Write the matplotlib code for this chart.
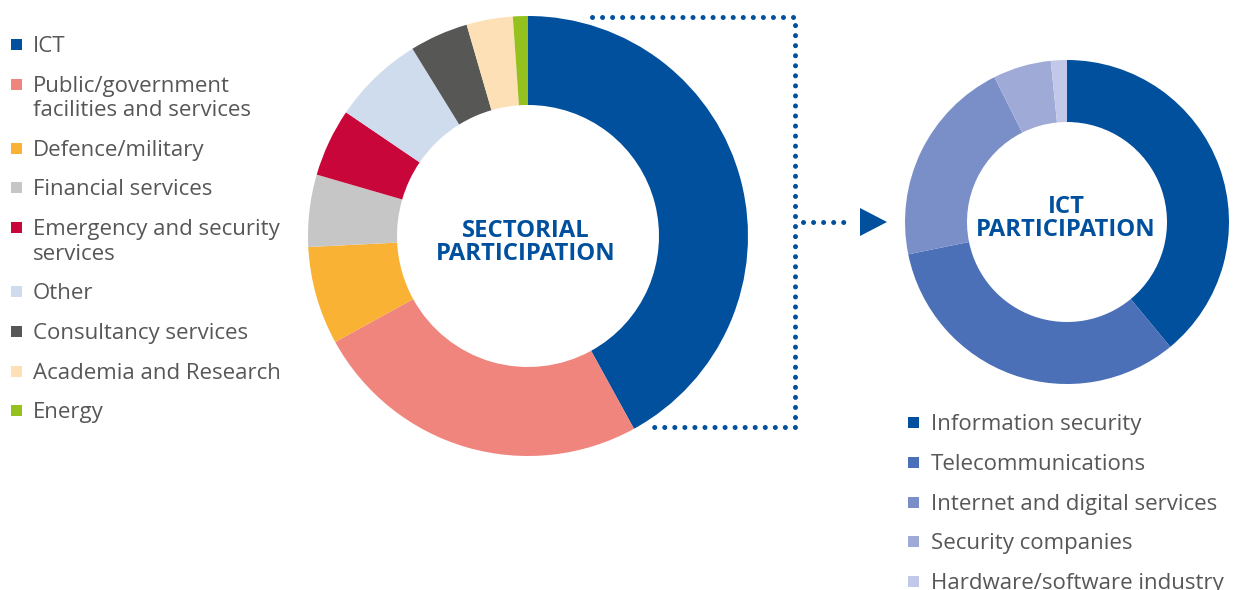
import matplotlib.pyplot as plt
from matplotlib.patches import Polygon

plt.rcParams['font.family'] = ['Open Sans', 'DejaVu Sans']

# sectorial participation (share, %)
sectors = ['ICT', 'Public/government\nfacilities and services', 'Defence/military',
           'Financial services', 'Emergency and security\nservices', 'Other',
           'Consultancy services', 'Academia and Research', 'Energy']
sector_share = [42.0, 25.0, 7.2, 5.3, 5.0, 6.7, 4.3, 3.4, 1.1]
sector_colors = ['#00509e', '#f0857d', '#f9b233', '#c6c6c6', '#c8063a',
                 '#cfdcee', '#575756', '#fde0b6', '#95c11f']

# ICT participation (share, %)
ict = ['Information security', 'Telecommunications', 'Internet and digital services',
       'Security companies', 'Hardware/software industry']
ict_share = [39.0, 32.8, 20.8, 5.8, 1.6]
ict_colors = ['#00509e', '#4b70b7', '#7a8fc8', '#9faad7', '#c2c9e8']

blue = '#00509e'
grey = '#575756'

fig = plt.figure(figsize=(12.36, 5.90), dpi=100)
ax = fig.add_axes([0, 0, 1, 1])

# y axis runs downwards (pixel-like), so counterclock=True draws clockwise on screen
ax.pie(sector_share, colors=sector_colors, startangle=-90, counterclock=True,
       center=(528, 236), radius=220, wedgeprops=dict(width=89, linewidth=0),
       frame=True)
ax.pie(ict_share, colors=ict_colors, startangle=-90, counterclock=True,
       center=(1067, 222), radius=162, wedgeprops=dict(width=62, linewidth=0),
       frame=True)
ax.set_xlim(0, 1236)
ax.set_ylim(590, 0)
ax.set_aspect('equal')
ax.axis('off')


def label(x, y, s, gap, **kw):
    # one text per line, y is the middle of the first line
    for i, line in enumerate(s.split('\n')):
        ax.text(x, y + i * gap, line, va='center_baseline', **kw)


label(526, 228, 'SECTORIAL\nPARTICIPATION', 23, ha='center', color=blue,
      fontsize=17.2, fontweight='bold')
label(1066, 204, 'ICT\nPARTICIPATION', 23, ha='center', color=blue,
      fontsize=17.2, fontweight='bold')

# dotted bracket and arrow
dots = dict(color=blue, lw=3.6, linestyle=(0, (0.01, 2.0)), dash_capstyle='round')
ax.plot([592, 795, 795, 648], [17, 17, 427, 427], **dots)
ax.plot([803, 853], [222, 222], **dots)
ax.add_patch(Polygon([[860, 208], [887, 222], [860, 236]], closed=True,
                     color=blue, lw=0))

# left legend
left_y = [44, 84, 148, 187, 227, 291, 331, 371, 410]
for lab, col, y in zip(sectors, sector_colors, left_y):
    ax.add_patch(plt.Rectangle((11, y - 5.5), 11, 11, color=col, lw=0))
    label(33, y, lab, 24.5, ha='left', color=grey, fontsize=16)

# right legend
right_y = [422, 462, 502, 541, 581]
for lab, col, y in zip(ict, ict_colors, right_y):
    ax.add_patch(plt.Rectangle((908, y - 5.5), 11, 11, color=col, lw=0))
    label(931, y, lab, 24.5, ha='left', color=grey, fontsize=16)

fig.savefig('out.png', dpi=100)
